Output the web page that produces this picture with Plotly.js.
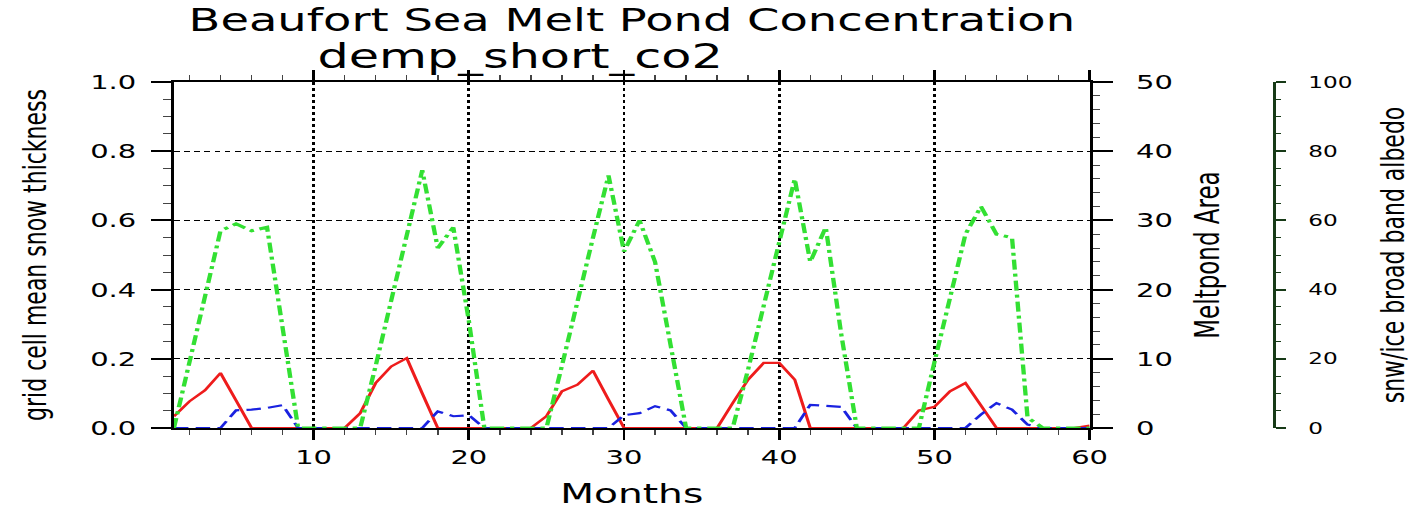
<!DOCTYPE html>
<html>
<head>
<meta charset="utf-8">
<script src="https://cdn.plot.ly/plotly-3.0.1.min.js"></script>
<style>
  html, body { margin: 0; padding: 0; overflow: hidden; background: #ffffff; width: 1422px; height: 509px; }
  /* the reference is an NCL plot that was stretched horizontally; reproduce that stretch */
  #wrap { width: 981px; height: 509px; transform: scaleX(1.4495); transform-origin: 0 0; }
  #chart { width: 981px; height: 509px; }
</style>
</head>
<body>
<div id="wrap"><div id="chart"></div></div>
<script>
// ---- data ----
const months = [1,2,3,4,5,6,7,8,9,10,11,12,13,14,15,16,17,18,19,20,
                21,22,23,24,25,26,27,28,29,30,31,32,33,34,35,36,37,38,39,40,
                41,42,43,44,45,46,47,48,49,50,51,52,53,54,55,56,57,58,59,60];

// grid cell mean snow thickness (left axis, red solid)
const snowThickness = [0.034,0.077,0.109,0.159,0.080,0,0,0,0,0,
                       0,0,0.043,0.130,0.178,0.202,0.100,0,0,0,
                       0,0,0,0,0.034,0.106,0.125,0.166,0.082,0,
                       0,0,0,0,0,0,0.072,0.140,0.188,0.188,
                       0.140,0,0,0,0,0,0,0,0.051,0.061,
                       0.106,0.130,0.065,0,0,0,0,0,0,0.007];

// Meltpond Area (first right axis, blue dashed)
const meltpondArea = [0,0,0,0,2.55,2.65,2.9,3.3,0,0,
                      0,0,0,0,0,0,0,2.4,1.7,1.85,
                      0,0,0,0,0,0,0,0,0,1.85,
                      2.15,3.15,2.55,0,0,0,0,0,0,0,
                      0,3.35,3.15,3.05,0,0,0,0,0,0,
                      0,0,1.95,3.6,2.65,0.5,0,0,0,0];

// snw/ice broad band albedo (second right axis, green dash-dot)
const albedo = [0,19,38,57,59,57,58,29,0,0,
                0,0,0,18,37,55,74.5,52,58,31,
                0,0,0,0,0,18,37,55,73,51,
                60,48,24,0,0,0,0,17,35,53,
                72,48,58,27,0,0,0,0,0,19,
                38,56,64,56,55,3,0,0,0,0];

const xTicks = [10,20,30,40,50,60];
const leftTicks = [0,0.2,0.4,0.6,0.8,1.0];
const pondTicks = [0,10,20,30,40,50];
const albedoTicks = [0,20,40,60,80,100];

const titleText = 'Beaufort Sea Melt Pond Concentration';
const subtitleText = 'demp_short_co2';
const xTitle = 'Months';
const leftTitle = 'grid cell mean snow thickness';
const pondTitle = 'Meltpond Area';
const albedoTitle = 'snw/ice broad band albedo';

// ---- styling ----
const FONT = 'DejaVu Sans, Liberation Sans, Arial, sans-serif';
const DKGREEN = '#173a17';

const traces = [
  { x: months, y: snowThickness, type: 'scatter', mode: 'lines', yaxis: 'y',
    line: { color: '#ee1c1c', width: 2.2 }, name: leftTitle },
  { x: months, y: meltpondArea, type: 'scatter', mode: 'lines', yaxis: 'y2',
    line: { color: '#1a22e0', width: 2.2, dash: '10px,5px' }, name: pondTitle },
  { x: months, y: albedo, type: 'scatter', mode: 'lines', yaxis: 'y3',
    line: { color: '#33e033', width: 3, dash: '10px,4px,3px,4px' }, name: albedoTitle }
];

const layout = {
  width: 981, height: 509,
  paper_bgcolor: '#ffffff', plot_bgcolor: '#ffffff',
  showlegend: false,
  margin: { l: 120, r: 81, t: 82, b: 81, pad: 0 },
  font: { family: FONT, color: '#000000' },
  title: {
    text: titleText,
    font: { family: FONT, size: 32, color: '#000000' },
    xref: 'paper', x: 0.405, xanchor: 'center',
    yref: 'container', y: 0.983, yanchor: 'top'
  },
  annotations: [{
    text: subtitleText, showarrow: false,
    xref: 'paper', x: 0.306, xanchor: 'center',
    yref: 'paper', y: 1.075, yanchor: 'middle',
    font: { family: FONT, size: 34, color: '#000000' }
  }],
  xaxis: {
    domain: [0, 0.8099], range: [1, 60], tickvals: xTicks,
    ticks: 'outside', ticklen: 10, tickwidth: 2, tickcolor: '#000',
    showline: true, linewidth: 2, linecolor: '#000', mirror: 'ticks',
    showgrid: true, gridcolor: '#000', griddash: 'dot', gridwidth: 2,
    zeroline: false, layer: 'below traces',
    minor: { dtick: 2, tick0: 0, ticks: 'outside', ticklen: 5, tickwidth: 1, tickcolor: '#444', showgrid: false },
    tickfont: { family: FONT, size: 20, color: '#000' },
    title: { text: xTitle, font: { family: FONT, size: 27, color: '#000' }, standoff: 16 },
    automargin: false, fixedrange: true
  },
  yaxis: {
    range: [0, 1], tickvals: leftTicks, tickformat: '.1f',
    ticks: 'outside', ticklen: 14, tickwidth: 2, tickcolor: '#000',
    showline: true, linewidth: 2, linecolor: '#000', mirror: false,
    showgrid: true, gridcolor: '#000', griddash: '4px,3px', gridwidth: 1,
    zeroline: false,
    minor: { dtick: 0.05, tick0: 0, ticks: 'outside', ticklen: 5.5, tickwidth: 1, tickcolor: '#444', showgrid: false },
    tickfont: { family: FONT, size: 20, color: '#000' },
    ticklabelstandoff: 6,
    title: { text: leftTitle, font: { family: FONT, size: 22, color: '#000' }, standoff: 24 },
    automargin: false, fixedrange: true
  },
  yaxis2: {
    overlaying: 'y', side: 'right', anchor: 'x',
    range: [0, 50], tickvals: pondTicks,
    ticks: 'outside', ticklen: 14, tickwidth: 2, tickcolor: '#000',
    showline: true, linewidth: 2, linecolor: '#000',
    showgrid: false, zeroline: false,
    minor: { dtick: 2, tick0: 0, ticks: 'outside', ticklen: 5.5, tickwidth: 1, tickcolor: '#444', showgrid: false },
    tickfont: { family: FONT, size: 20, color: '#000' },
    ticklabelstandoff: 12,
    title: { text: pondTitle, font: { family: FONT, size: 23, color: '#000' }, standoff: 17 },
    automargin: false, fixedrange: true
  },
  yaxis3: {
    overlaying: 'y', side: 'right', anchor: 'free', position: 0.9735,
    range: [0, 100], tickvals: albedoTicks,
    ticks: 'outside', ticklen: 7, tickwidth: 2, tickcolor: DKGREEN,
    showline: true, linewidth: 2, linecolor: DKGREEN,
    showgrid: false, zeroline: false,
    minor: { dtick: 5, tick0: 0, ticks: 'outside', ticklen: 3.5, tickwidth: 1, tickcolor: DKGREEN, showgrid: false },
    tickfont: { family: FONT, size: 16, color: '#000' },
    ticklabelstandoff: 12,
    title: { text: albedoTitle, font: { family: FONT, size: 22, color: '#000' }, standoff: 20 },
    automargin: false, fixedrange: true
  }
};

Plotly.newPlot('chart', traces, layout, { displayModeBar: false, staticPlot: true, responsive: false });
</script>
</body>
</html>
